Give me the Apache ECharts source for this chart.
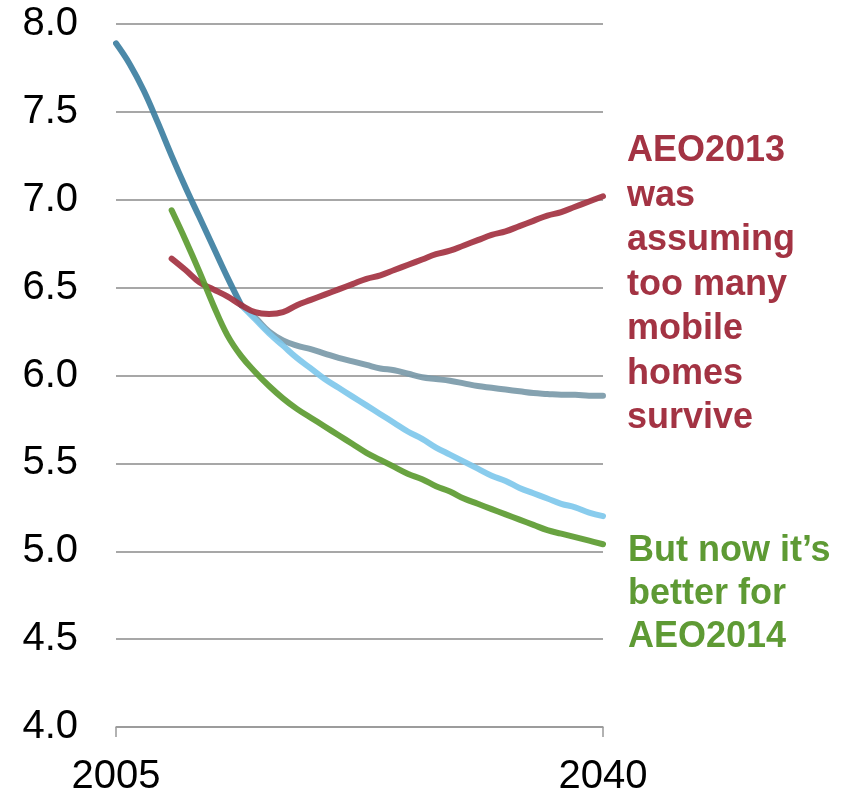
<!DOCTYPE html>
<html>
<head>
<meta charset="utf-8">
<script src="https://cdn.jsdelivr.net/npm/echarts@6/dist/echarts.min.js"></script>
<style>
  html, body { margin: 0; padding: 0; background: #fff; }
  #chart { width: 854px; height: 798px; }
</style>
</head>
<body>
<div id="chart"></div>
<script>
// years on the x axis
const years = [2005, 2006, 2007, 2008, 2009, 2010, 2011, 2012, 2013, 2014,
  2015, 2016, 2017, 2018, 2019, 2020, 2021, 2022, 2023, 2024,
  2025, 2026, 2027, 2028, 2029, 2030, 2031, 2032, 2033, 2034,
  2035, 2036, 2037, 2038, 2039, 2040];

// dark blue history, 2005-2014
const history = [7.89, 7.77, 7.62, 7.44, 7.25, 7.07, 6.90, 6.73, 6.56, 6.40];

// grey and light blue projections, 2014-2040
const grayLine = [6.40, 6.33, 6.25, 6.20, 6.17, 6.15, 6.125, 6.10, 6.08, 6.06,
  6.04, 6.03, 6.01, 5.99, 5.98, 5.97, 5.955, 5.94, 5.93, 5.92,
  5.91, 5.90, 5.895, 5.89, 5.89, 5.885, 5.885];
const lightBlue = [6.40, 6.32, 6.24, 6.17, 6.10, 6.04, 5.98, 5.93, 5.88, 5.83,
  5.78, 5.73, 5.68, 5.64, 5.59, 5.55, 5.51, 5.47, 5.43, 5.40,
  5.36, 5.33, 5.30, 5.27, 5.25, 5.22, 5.20];

// red (AEO2013) and green (AEO2014), 2009-2040
const aeo2013 = [6.665, 6.60, 6.53, 6.49, 6.45, 6.40, 6.36, 6.35, 6.36, 6.40,
  6.43, 6.46, 6.49, 6.52, 6.55, 6.57, 6.60, 6.63, 6.66, 6.69,
  6.71, 6.74, 6.77, 6.80, 6.82, 6.85, 6.88, 6.91, 6.93, 6.96,
  6.99, 7.02];
const aeo2014 = [6.94, 6.77, 6.59, 6.40, 6.23, 6.11, 6.02, 5.94, 5.87, 5.81,
  5.76, 5.71, 5.66, 5.61, 5.56, 5.52, 5.48, 5.44, 5.41, 5.37,
  5.34, 5.30, 5.27, 5.24, 5.21, 5.18, 5.15, 5.12, 5.10, 5.08,
  5.06, 5.04];

const xTicks = [2005, 2040];

// pair values with years starting at a given year
function pairs(startYear, vals) {
  const i0 = years.indexOf(startYear);
  return vals.map((v, i) => [years[i0 + i], v]);
}

function lineSeries(name, data, color) {
  return {
    name: name,
    type: 'line',
    data: data,
    smooth: 0.4,
    showSymbol: false,
    symbol: 'none',
    lineStyle: { color: color, width: 6, opacity: 0.92, cap: 'round', join: 'round' },
    itemStyle: { color: color }
  };
}

const chart = echarts.init(document.getElementById('chart'));
chart.setOption({
  animation: false,
  backgroundColor: '#fff',
  textStyle: { fontFamily: 'Liberation Sans, Arial, sans-serif' },
  grid: { left: 116, right: 251, top: 24, bottom: 71 },
  xAxis: {
    type: 'value',
    min: 2005,
    max: 2040,
    axisLine: { show: true, lineStyle: { color: '#999', width: 1.5 } },
    axisTick: { show: true, customValues: xTicks, length: 10, lineStyle: { color: '#999', width: 1.5 } },
    axisLabel: {
      customValues: xTicks,
      fontSize: 40,
      color: '#000',
      margin: 30,
      formatter: v => String(v)
    },
    splitLine: { show: false }
  },
  yAxis: {
    type: 'value',
    min: 4,
    max: 8,
    interval: 0.5,
    axisLine: { show: false },
    axisTick: { show: false },
    axisLabel: {
      fontSize: 40,
      color: '#000',
      margin: 38,
      formatter: v => v.toFixed(1)
    },
    splitLine: { lineStyle: { color: '#8a8a8a', width: 1.5 } }
  },
  series: [
    lineSeries('AEO2013 projection', pairs(2014, grayLine), '#7b9aa9'),
    lineSeries('AEO2014 projection', pairs(2014, lightBlue), '#7fc8ec'),
    lineSeries('History', pairs(2005, history), '#3d7fa1'),
    lineSeries('AEO2013', pairs(2009, aeo2013), '#a33241'),
    lineSeries('AEO2014', pairs(2009, aeo2014), '#5c9b31')
  ],
  graphic: [
    {
      type: 'text',
      left: 627,
      top: 129,
      style: {
        text: 'AEO2013\nwas\nassuming\ntoo many\nmobile\nhomes\nsurvive',
        fill: '#a33343',
        font: 'bold 36px "Liberation Sans", Arial, sans-serif',
        lineHeight: 44.5
      }
    },
    {
      type: 'text',
      left: 628,
      top: 530,
      style: {
        text: 'But now it\u2019s\nbetter for\nAEO2014',
        fill: '#5e9a34',
        font: 'bold 36px "Liberation Sans", Arial, sans-serif',
        lineHeight: 43
      }
    }
  ]
});
</script>
</body>
</html>
